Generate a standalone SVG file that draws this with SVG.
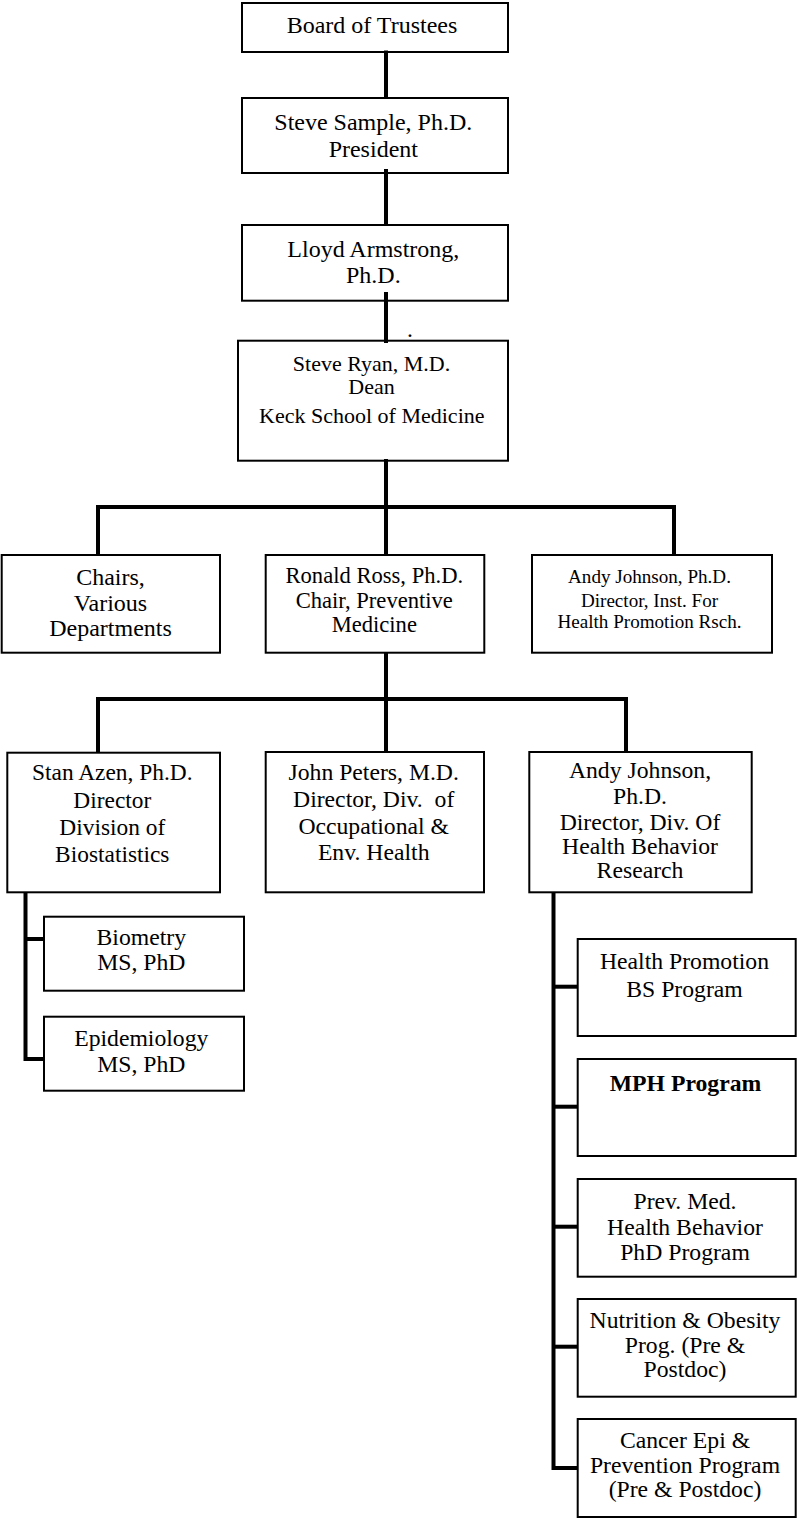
<svg xmlns="http://www.w3.org/2000/svg" width="797" height="1519" viewBox="0 0 797 1519">
<style>
.box{fill:#fff;stroke:#000;stroke-width:2}
.t{font-family:"Liberation Serif","Times New Roman","DejaVu Serif",serif;font-size:23.7px;fill:#000;text-anchor:middle}
.l{font-size:24px}
.s{font-size:22px}
.r{font-size:22.6px}
.m{font-size:23.4px}
.sm{font-size:19.1px}
.b{font-weight:bold}
.pre{white-space:pre}
.c{fill:none;stroke:#000;stroke-width:4;stroke-linejoin:miter}
</style>
<rect width="797" height="1519" fill="#fff"/>
<g id="board">
<rect class="box" x="242" y="3" width="266" height="49"/>
<text class="t l" x="372" y="33.3">Board of Trustees</text>
</g>
<g id="sample">
<rect class="box" x="242" y="98" width="266" height="75"/>
<text class="t l" x="373.3" y="130">Steve Sample, Ph.D.</text>
<text class="t l" x="373.3" y="157">President</text>
</g>
<g id="armstrong">
<rect class="box" x="242" y="225" width="266" height="75.7"/>
<text class="t l" x="373.3" y="257.3">Lloyd Armstrong,</text>
<text class="t l" x="373.3" y="282.7">Ph.D.</text>
</g>
<text class="t" x="410" y="337">.</text>
<g id="ryan">
<rect class="box" x="238" y="340.7" width="270" height="120"/>
<text class="t s" x="371.5" y="371">Steve Ryan, M.D.</text>
<text class="t s" x="371.5" y="394">Dean</text>
<text class="t s" x="371.8" y="422.7">Keck School of Medicine</text>
</g>
<g id="chairs">
<rect class="box" x="1.7" y="555" width="218.3" height="97.7"/>
<text class="t l" x="110.5" y="585">Chairs,</text>
<text class="t l" x="110.5" y="610.7">Various</text>
<text class="t l" x="110.5" y="636">Departments</text>
</g>
<g id="ross">
<rect class="box" x="265.7" y="555" width="218.6" height="97.7"/>
<text class="t r" x="374.3" y="583">Ronald Ross, Ph.D.</text>
<text class="t r" x="374.3" y="607.5">Chair, Preventive</text>
<text class="t r" x="374.3" y="632">Medicine</text>
</g>
<g id="johnson-inst">
<rect class="box" x="532" y="555" width="240" height="97.7"/>
<text class="t sm" x="649.5" y="582.7">Andy Johnson, Ph.D.</text>
<text class="t sm" x="649.5" y="606.7">Director, Inst. For</text>
<text class="t sm" x="649.5" y="628.3">Health Promotion Rsch.</text>
</g>
<g id="azen">
<rect class="box" x="7.3" y="752.7" width="212.7" height="139.6"/>
<text class="t m" x="112.3" y="780">Stan Azen, Ph.D.</text>
<text class="t m" x="112.3" y="807.7">Director</text>
<text class="t m" x="112.3" y="835">Division of</text>
<text class="t m" x="112.3" y="861.7">Biostatistics</text>
</g>
<g id="peters">
<rect class="box" x="265.7" y="752" width="218.3" height="140.3"/>
<text class="t" x="373.7" y="780">John Peters, M.D.</text>
<text class="t pre" x="373.7" y="806.7">Director, Div.  of</text>
<text class="t" x="373.7" y="834">Occupational &amp;</text>
<text class="t" x="373.7" y="860">Env. Health</text>
</g>
<g id="johnson-div">
<rect class="box" x="529.3" y="752" width="222.4" height="140.3"/>
<text class="t" x="640" y="777.7">Andy Johnson,</text>
<text class="t" x="640" y="804">Ph.D.</text>
<text class="t" x="640" y="830">Director, Div. Of</text>
<text class="t" x="640" y="854.3">Health Behavior</text>
<text class="t" x="640" y="878.3">Research</text>
</g>
<g id="biometry">
<rect class="box" x="44" y="916.7" width="200" height="74"/>
<text class="t" x="141.3" y="945">Biometry</text>
<text class="t" x="141.3" y="970">MS, PhD</text>
</g>
<g id="epidemiology">
<rect class="box" x="44" y="1016.7" width="200" height="74"/>
<text class="t" x="141.3" y="1045.7">Epidemiology</text>
<text class="t" x="141.3" y="1071.7">MS, PhD</text>
</g>
<g id="health-promotion">
<rect class="box" x="577.7" y="939" width="218" height="97"/>
<text class="t" x="684.5" y="969">Health Promotion</text>
<text class="t" x="684.5" y="996.7">BS Program</text>
</g>
<g id="mph">
<rect class="box" x="577.7" y="1059" width="218" height="97"/>
<text class="t b" x="685.5" y="1090.7">MPH Program</text>
</g>
<g id="prevmed">
<rect class="box" x="577.7" y="1179" width="218" height="97.7"/>
<text class="t" x="685" y="1209.3">Prev. Med.</text>
<text class="t" x="685" y="1235">Health Behavior</text>
<text class="t" x="685" y="1260">PhD Program</text>
</g>
<g id="nutrition">
<rect class="box" x="577.7" y="1299" width="218" height="97.7"/>
<text class="t" x="685" y="1328.3">Nutrition &amp; Obesity</text>
<text class="t" x="685" y="1353.3">Prog. (Pre &amp;</text>
<text class="t" x="685" y="1377.3">Postdoc)</text>
</g>
<g id="cancer">
<rect class="box" x="577.7" y="1419" width="218" height="98"/>
<text class="t" x="685" y="1448.3">Cancer Epi &amp;</text>
<text class="t" x="685" y="1473.3">Prevention Program</text>
<text class="t" x="685" y="1497.3">(Pre &amp; Postdoc)</text>
</g>
<g id="connectors">
<path class="c" d="M386 50.5 V98"/>
<path class="c" d="M386 169 V225"/>
<path class="c" d="M386 292 V343"/>
<path class="c" d="M386 459 V555"/>
<path class="c" d="M98 555 V507 H674 V555"/>
<path class="c" d="M386 652 V752"/>
<path class="c" d="M98 752 V699 H626 V752"/>
<path class="c" d="M25.5 892 V1059 H44"/>
<path class="c" d="M25.5 939 H44"/>
<path class="c" d="M553.5 892 V1468 H578"/>
<path class="c" d="M553.5 986.7 H578"/>
<path class="c" d="M553.5 1106.7 H578"/>
<path class="c" d="M553.5 1226.7 H578"/>
<path class="c" d="M553.5 1346.7 H578"/>
</g>
</svg>
